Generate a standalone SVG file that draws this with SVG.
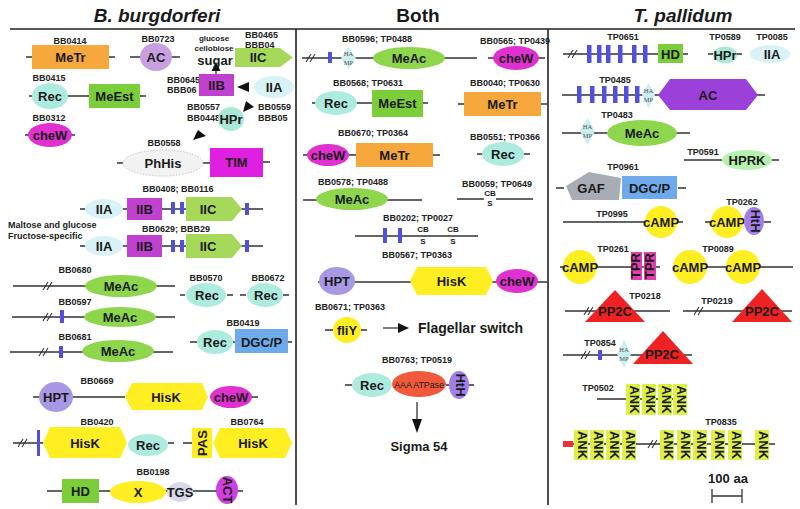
<svg xmlns="http://www.w3.org/2000/svg" width="800" height="509" viewBox="0 0 800 509">
<defs>
<style>
text{font-family:"Liberation Sans",Arial,sans-serif;fill:#1a1a1a}
.ttl{font-size:19px;font-weight:bold;text-anchor:middle}
.it{font-style:italic}
.lb{font-size:9px;font-weight:bold;text-anchor:middle;fill:#222}
.ls{font-size:9px;font-weight:bold;fill:#222}
.d{font-size:13px;font-weight:bold;text-anchor:middle}
.sm{font-size:8px;font-weight:bold;text-anchor:middle}
.hm{font-family:"Liberation Serif",serif;font-size:6.5px;text-anchor:middle;fill:#555}
.ln{stroke:#333;stroke-width:1.3;fill:none}
.sep{stroke:#222;stroke-width:1.6;fill:none}
.brk{stroke:#333;stroke-width:1.1;fill:none}
.ah{fill:#111}
.mt{fill:#F6A83C}
.me{fill:#7CCD3A}
.ma{fill:#8ED64C}
.ic{fill:#A6D85A}
.rc{fill:#AEEBDF}
.ia{fill:#D8F2F8}
.hp{fill:#A8E8D4}
.cw{fill:#E030D0}
.ib{fill:#C040D0}
.ye{fill:#FFEE22}
.ht{fill:#A898E4}
.hth{fill:#A080E8}
.dg{fill:#6EAAEA}
.bb{fill:#5050DD}
.hamp{fill:#C8EEF0}
.ank{fill:#DDF045}
.pp{fill:#EE2222}
.cmp{fill:#FFEE22}
</style>
</defs>
<rect width="800" height="509" fill="#fff"/>

<g id="titles">
<text class="ttl it" x="157" y="22">B. burgdorferi</text>
<text class="ttl" x="418" y="22">Both</text>
<text class="ttl it" x="683" y="22">T. pallidum</text>
<path class="sep" d="M10 29H795M296 29V505M548 29V505"/>
</g>

<g id="connectors">
<!-- left column backbones -->
<path class="ln" d="M26 57H115M130 57H180M29 96H146M25 135H75M117 163H123M202 163H210M263 162H270"/>
<path class="ln" d="M80 209H263M80 246H263"/>
<path class="ln" d="M13 286H175M180 295H185M227 295H233M240 295H246M283 295H289M12 317H175M190 342H197M233 342H236M288 342H292M10 352H173"/>
<path class="ln" d="M33 397H125M252 397H258M13 443H43M168 443H174M183 443H192M47 491H243"/>
<!-- arrows left -->
<path class="ln" d="M216 76V70"/>
<polygon class="ah" points="216,62 211.5,71 220.5,71"/>
<polygon class="ah" points="237,87 249,82 249,92"/>
<polygon class="ah" points="243,112 246,101 254,107"/>
<polygon class="ah" points="193,140 198,130 206,136"/>
<!-- middle backbones -->
<path class="ln" d="M302 58H477M488 58H494M538 58H545M312 103H428M458 104H464M541 104H547M303 155H440M477 154H483M523 154H530"/>
<path class="ln" d="M303 200H422M457 199H484M496 199H533M355 236H478M318 282H547M325 330H333M361 330H367M345 385H352M446 385H450M468 385H474"/>
<path class="ln" d="M383 328H399"/>
<polygon class="ah" points="398,323 409,328 398,333"/>
<path class="ln" d="M417 402V420"/>
<polygon class="ah" points="412,419 417,433 422,419"/>
<!-- right backbones -->
<path class="ln" d="M563 54H688M708 54H714M736 54H742M562 95H765M562 133H690M684 160H722M771 160H779M556 188H564M678 188H686"/>
<path class="ln" d="M563 222H683M705 222H712M763 222H771M560 267H660M673 267H793M565 311H670M683 311H792M563 355H692"/>
<path class="ln" d="M597 399H687M573 444H775"/>
<path class="ln" d="M712 496H742M712 489V503M742 489V503"/>
<!-- breaks -->
<path class="brk" d="M43 290L48 282M47 290L52 282M43 321L48 313M47 321L52 313M39 356L44 348M43 356L48 348M18 447L23 439M22 447L27 439M306 62L311 54M310 62L315 54M568 58L573 50M572 58L577 50M584 315L589 307M588 315L593 307M694 315L699 307M698 315L703 307M581 359L586 351M585 359L590 351M648 448L653 440M652 448L657 440"/>
</g>

<!-- ============ LEFT COLUMN ============ -->
<g id="bb0414"><text class="lb" x="70" y="44">BB0414</text><rect class="mt" x="32" y="45" width="77" height="24"/><text class="d" x="70.5" y="61.5">MeTr</text></g>
<g id="bb0723"><text class="lb" x="158" y="42">BB0723</text><ellipse fill="#C8A0E0" cx="156" cy="57" rx="16" ry="14"/><text class="d" x="156" y="61.5">AC</text></g>
<g id="sugar"><text class="sm" x="214" y="41">glucose</text><text class="sm" x="214" y="51">cellobiose</text><text class="d" x="215" y="65">sugar</text></g>
<g id="bb0465"><text class="ls" x="245" y="38">BB0465</text><text class="ls" x="245" y="48">BBB04</text><polygon class="ic" points="235,48 280,48 293,57.5 280,67 235,67"/><text class="d" x="258" y="62">IIC</text></g>
<g id="bb0645"><text class="ls" x="167" y="83">BB0645</text><text class="ls" x="167" y="93">BBB06</text><rect class="ib" x="199" y="74" width="35" height="22"/><text class="d" x="216.5" y="89.5" fill="#3a0a4a">IIB</text></g>
<g id="bb0559"><ellipse class="ia" cx="274" cy="87" rx="20" ry="11"/><text class="d" x="274" y="91.5">IIA</text><text class="ls" x="258" y="110">BB0559</text><text class="ls" x="258" y="121">BBB05</text></g>
<g id="bb0557"><text class="ls" x="187" y="110">BB0557</text><text class="ls" x="187" y="121">BB0448</text><ellipse class="hp" cx="231" cy="119" rx="13" ry="12"/><text class="d" x="231" y="123.5">HPr</text></g>
<g id="bb0415"><text class="lb" x="49" y="81">BB0415</text><ellipse class="rc" cx="50" cy="96" rx="18" ry="13"/><text class="d" x="50" y="100.5">Rec</text><rect class="me" x="89" y="84" width="51" height="24"/><text class="d" x="114.5" y="100.5">MeEst</text></g>
<g id="bb0312"><text class="lb" x="49" y="121">BB0312</text><ellipse class="cw" cx="50" cy="135" rx="22" ry="12"/><text class="d" x="50" y="139.5">cheW</text></g>
<g id="bb0558"><text class="lb" x="164" y="146">BB0558</text><ellipse fill="#F2F2F2" stroke="#C4C4C4" stroke-dasharray="1.5 1.5" cx="163" cy="163" rx="40" ry="13"/><text class="d" x="163" y="167.5">PhHis</text><rect x="210" y="148" width="53" height="29" fill="#E020E0"/><text class="d" x="236.5" y="167">TIM</text></g>

<g id="bb0408"><text class="lb" x="178" y="192">BB0408; BB0116</text>
<ellipse class="ia" cx="104" cy="209" rx="19" ry="10"/><text class="d" x="104" y="213.5">IIA</text>
<rect class="ib" x="127" y="198" width="35" height="22"/><text class="d" x="144.5" y="213.5" fill="#3a0a4a">IIB</text>
<rect class="bb" x="171" y="202" width="4" height="12"/><rect class="bb" x="180" y="202" width="4" height="12"/>
<polygon class="ic" points="186,197 232,197 242,209 232,221 186,221"/><text class="d" x="208" y="213.5">IIC</text>
<rect class="bb" x="245" y="203" width="4" height="12"/></g>
<g id="note"><text class="ls" x="8" y="228" font-size="8.5">Maltose and glucose</text><text class="ls" x="8" y="239" font-size="8.5">Fructose-specific</text></g>
<g id="bb0629"><text class="lb" x="176" y="232">BB0629;  BBB29</text>
<ellipse class="ia" cx="104" cy="246" rx="19" ry="10"/><text class="d" x="104" y="250.5">IIA</text>
<rect class="ib" x="127" y="235" width="35" height="22"/><text class="d" x="144.5" y="250.5" fill="#3a0a4a">IIB</text>
<rect class="bb" x="171" y="240" width="4" height="12"/><rect class="bb" x="180" y="240" width="4" height="12"/>
<polygon class="ic" points="186,234 232,234 242,246 232,258 186,258"/><text class="d" x="208" y="250.5">IIC</text>
<rect class="bb" x="245" y="240" width="4" height="12"/></g>

<g id="bb0680"><text class="lb" x="75" y="273">BB0680</text><ellipse class="ma" cx="121" cy="286" rx="36" ry="11"/><text class="d" x="121" y="290.5">MeAc</text></g>
<g id="bb0570"><text class="lb" x="206" y="281">BB0570</text><ellipse class="rc" cx="206" cy="295" rx="20" ry="12"/><text class="d" x="207" y="299.5">Rec</text></g>
<g id="bb0672"><text class="lb" x="268" y="281">BB0672</text><ellipse class="rc" cx="265" cy="295" rx="18" ry="12"/><text class="d" x="266" y="299.5">Rec</text></g>
<g id="bb0597"><text class="lb" x="75" y="305">BB0597</text><rect class="bb" x="60" y="310" width="4" height="13"/><ellipse class="ma" cx="120" cy="317" rx="36" ry="10"/><text class="d" x="120" y="321.5">MeAc</text></g>
<g id="bb0419"><text class="lb" x="243" y="326">BB0419</text><ellipse class="rc" cx="215" cy="342" rx="18" ry="12"/><text class="d" x="215" y="346.5">Rec</text><rect class="dg" x="235" y="329" width="53" height="24"/><text class="d" x="261.5" y="346.5">DGC/P</text></g>
<g id="bb0681"><text class="lb" x="75" y="340">BB0681</text><rect class="bb" x="59" y="346" width="4" height="12"/><ellipse class="ma" cx="118" cy="351" rx="36" ry="11"/><text class="d" x="118" y="355.5">MeAc</text></g>

<g id="bb0669"><text class="lb" x="97" y="384">BB0669</text><ellipse class="ht" cx="56" cy="397" rx="17" ry="15"/><text class="d" x="56" y="401.5">HPT</text>
<polygon class="ye" points="125,397 132,383 202,383 208,397 202,410 132,410"/><text class="d" x="166" y="401.5">HisK</text>
<ellipse class="cw" cx="231" cy="397" rx="21" ry="11"/><text class="d" x="231" y="401.5">cheW</text></g>
<g id="bb0420"><text class="lb" x="97" y="425">BB0420</text><rect class="bb" x="37" y="430" width="3" height="26"/>
<polygon class="ye" points="43,443 50,427 120,427 127,443 120,458 50,458"/><text class="d" x="85" y="447.5">HisK</text>
<ellipse class="rc" cx="148" cy="445" rx="20" ry="11"/><text class="d" x="148" y="449.5">Rec</text></g>
<g id="bb0764"><text class="lb" x="247" y="425">BB0764</text><rect class="ye" x="192" y="428" width="20" height="30"/><text class="d" transform="translate(206.5,443) rotate(-90)" x="0" y="0" font-size="12">PAS</text>
<polygon class="ye" points="213,443 220,428 285,428 292,443 285,458 220,458"/><text class="d" x="253" y="447.5">HisK</text></g>
<g id="bb0198"><text class="lb" x="153" y="475">BB0198</text><rect class="me" x="62" y="479" width="37" height="24"/><text class="d" x="80.5" y="496">HD</text>
<ellipse class="ye" cx="138" cy="492" rx="28" ry="11"/><text class="d" x="138" y="496.5">X</text>
<ellipse fill="#D8D8EA" cx="180" cy="492" rx="13" ry="10"/><text class="d" x="180" y="496.5">TGS</text>
<ellipse fill="#D040E0" cx="227" cy="490" rx="11" ry="14"/><text class="d" transform="translate(223,490) rotate(90)" x="0" y="0" font-size="12">ACT</text></g>

<!-- ============ MIDDLE COLUMN ============ -->
<g id="bb0596"><text class="lb" x="377" y="42">BB0596; TP0488</text><rect class="bb" x="328" y="52" width="4" height="11"/>
<polygon class="hamp" points="341,58 348.5,47 356,58 348.5,69"/><text class="hm" x="348.5" y="56">HA</text><text class="hm" x="348.5" y="65">MP</text>
<ellipse class="ma" cx="409" cy="58" rx="36" ry="11"/><text class="d" x="409" y="62.5">MeAc</text></g>
<g id="bb0565"><text class="lb" x="515" y="44">BB0565; TP0439</text><ellipse class="cw" cx="516" cy="58" rx="23" ry="12"/><text class="d" x="516" y="62.5">cheW</text></g>
<g id="bb0568"><text class="lb" x="368" y="86">BB0568; TP0631</text><ellipse class="rc" cx="336" cy="103" rx="21" ry="12"/><text class="d" x="336" y="107.5">Rec</text><rect class="me" x="372" y="90" width="51" height="27"/><text class="d" x="397.5" y="108">MeEst</text></g>
<g id="bb0040"><text class="lb" x="505" y="86">BB0040; TP0630</text><rect class="mt" x="464" y="92" width="77" height="24"/><text class="d" x="502.5" y="108.5">MeTr</text></g>
<g id="bb0670"><text class="lb" x="373" y="136">BB0670; TP0364</text><ellipse class="cw" cx="328" cy="155" rx="21" ry="11"/><text class="d" x="328" y="159.5">cheW</text><rect class="mt" x="356" y="143" width="77" height="24"/><text class="d" x="394.5" y="159.5">MeTr</text></g>
<g id="bb0551"><text class="lb" x="505" y="140">BB0551; TP0366</text><ellipse class="rc" cx="503" cy="154" rx="21" ry="12"/><text class="d" x="503" y="158.5">Rec</text></g>
<g id="bb0578"><text class="lb" x="353" y="185">BB0578; TP0488</text><ellipse class="ma" cx="352" cy="199" rx="36" ry="11"/><text class="d" x="352" y="203.5">MeAc</text></g>
<g id="bb0059"><text class="lb" x="497" y="187">BB0059; TP0649</text><text class="sm" x="490" y="196">CB</text><text class="sm" x="490" y="206">S</text></g>
<g id="bb0202"><text class="lb" x="418" y="221">BB0202; TP0027</text><rect class="bb" x="383" y="228" width="4" height="15"/><rect class="bb" x="398" y="228" width="4" height="15"/>
<text class="sm" x="423" y="232">CB</text><text class="sm" x="423" y="244">S</text><text class="sm" x="453" y="232">CB</text><text class="sm" x="453" y="244">S</text></g>
<g id="bb0567"><text class="lb" x="417" y="258">BB0567; TP0363</text><ellipse class="ht" cx="337" cy="281" rx="18" ry="14"/><text class="d" x="337" y="285.5">HPT</text>
<polygon class="ye" points="410,281 417,267 486,267 493,281 486,295 417,295"/><text class="d" x="451.5" y="285.5">HisK</text>
<ellipse class="cw" cx="517" cy="281" rx="21" ry="12"/><text class="d" x="517" y="285.5">cheW</text></g>
<g id="bb0671"><text class="lb" x="350" y="310">BB0671; TP0363</text><ellipse class="ye" cx="347" cy="330" rx="14" ry="13"/><text class="d" x="347" y="334.5">fliY</text></g>
<g id="flagellar"><text x="418" y="333" font-size="14" font-weight="bold">Flagellar switch</text></g>
<g id="bb0763"><text class="lb" x="417" y="363">BB0763; TP0519</text><ellipse class="rc" cx="372" cy="385" rx="20" ry="12"/><text class="d" x="372" y="389.5">Rec</text>
<ellipse fill="#F05A3A" cx="419" cy="384" rx="27" ry="13"/><text x="419" y="387.5" font-size="8.8" text-anchor="middle">AAA ATPase</text>
<ellipse class="hth" cx="459" cy="385" rx="10" ry="14"/><text class="d" transform="translate(455.5,385) rotate(90)" x="0" y="0" font-size="10">HtH</text></g>
<g id="sigma"><text class="d" x="419" y="451">Sigma 54</text></g>

<!-- ============ RIGHT COLUMN ============ -->
<g id="tp0651"><text class="lb" x="623" y="40">TP0651</text>
<rect class="bb" x="587" y="45" width="4.5" height="18"/><rect class="bb" x="597" y="45" width="4.5" height="18"/><rect class="bb" x="606" y="45" width="4.5" height="18"/><rect class="bb" x="618" y="45" width="4.5" height="18"/><rect class="bb" x="632" y="45" width="4.5" height="18"/><rect class="bb" x="643" y="45" width="4.5" height="18"/>
<rect class="me" x="658" y="44" width="25" height="19"/><text class="d" x="670.5" y="58.5">HD</text></g>
<g id="tp0589"><text class="lb" x="725" y="40">TP0589</text><ellipse class="hp" cx="725" cy="55" rx="12" ry="8.5"/><text class="d" x="725" y="59.5" font-size="12">HPr</text></g>
<g id="tp0085"><text class="lb" x="772" y="40">TP0085</text><ellipse class="ia" cx="770" cy="54" rx="20" ry="9"/><text class="d" x="772" y="58.5">IIA</text></g>
<g id="tp0485"><text class="lb" x="615" y="83">TP0485</text>
<rect class="bb" x="577" y="86" width="4.5" height="17"/><rect class="bb" x="590" y="86" width="4.5" height="17"/><rect class="bb" x="602" y="86" width="4.5" height="17"/><rect class="bb" x="613" y="86" width="4.5" height="17"/><rect class="bb" x="624" y="86" width="4.5" height="17"/><rect class="bb" x="635" y="86" width="4.5" height="17"/>
<polygon class="hamp" points="642,95 648.5,83 655,95 648.5,108"/><text class="hm" x="648.5" y="93">HA</text><text class="hm" x="648.5" y="102">MP</text>
<polygon fill="#9B40D8" points="658,95 670,79 746,79 758,95 746,110 670,110"/><text class="d" x="708" y="100" font-size="14">AC</text></g>
<g id="tp0483"><text class="lb" x="617" y="118">TP0483</text>
<polygon class="hamp" points="580,131 587.5,118 595,131 587.5,145"/><text class="hm" x="587.5" y="129">HA</text><text class="hm" x="587.5" y="138">MP</text>
<ellipse class="ma" cx="642" cy="133" rx="35" ry="13"/><text class="d" x="642" y="137.5">MeAc</text></g>
<g id="tp0591"><text class="lb" x="703" y="155">TP0591</text><ellipse fill="#B8F0B0" cx="747" cy="160" rx="25" ry="10"/><text class="d" x="747" y="164.5">HPRK</text></g>
<g id="tp0961"><text class="lb" x="623" y="170">TP0961</text><polygon fill="#A8ACB4" points="566,186 589,172 621,178 619,200 572,200"/><text class="d" x="591" y="192.5">GAF</text>
<rect class="dg" x="622" y="176" width="55" height="23"/><text class="d" x="649.5" y="192.5">DGC/P</text></g>
<g id="tp0995"><text class="lb" x="612" y="217">TP0995</text><circle class="cmp" cx="661" cy="222" r="16"/><text class="d" x="661" y="226.5">cAMP</text></g>
<g id="tp0262"><text class="lb" x="742" y="205">TP0262</text><circle class="cmp" cx="727" cy="222" r="16"/><text class="d" x="727" y="226.5">cAMP</text>
<ellipse class="hth" cx="754" cy="221" rx="10" ry="14"/><text class="d" transform="translate(750.5,221) rotate(90)" x="0" y="0" font-size="10">HtH</text></g>
<g id="tp0261"><text class="lb" x="613" y="252">TP0261</text><circle class="cmp" cx="580" cy="267" r="17"/><text class="d" x="580" y="271.5">cAMP</text>
<rect fill="#E040A8" x="631" y="252" width="11" height="28"/><rect fill="#E040A8" x="644" y="252" width="12" height="28"/>
<text class="d" transform="translate(640,266) rotate(-90)" x="0" y="0" font-size="10">TPR</text><text class="d" transform="translate(653.5,266) rotate(-90)" x="0" y="0" font-size="10">TPR</text></g>
<g id="tp0089"><text class="lb" x="718" y="252">TP0089</text><circle class="cmp" cx="690" cy="267" r="17"/><text class="d" x="690" y="271.5">cAMP</text><circle class="cmp" cx="743" cy="267" r="17"/><text class="d" x="743" y="271.5">cAMP</text></g>
<g id="tp0218"><text class="lb" x="645" y="299">TP0218</text><polygon class="pp" points="615,290 585,322 645,322"/><text class="d" x="615" y="316" font-size="14">PP2C</text></g>
<g id="tp0219"><text class="lb" x="717" y="304">TP0219</text><polygon class="pp" points="762,289 732,322 792,322"/><text class="d" x="762" y="316" font-size="14">PP2C</text></g>
<g id="tp0854"><text class="lb" x="600" y="346">TP0854</text><rect class="bb" x="598" y="350" width="4" height="10"/>
<polygon class="hamp" points="617,354 624,340 631,354 624,368"/><text class="hm" x="624" y="352">HA</text><text class="hm" x="624" y="361">MP</text>
<polygon class="pp" points="663,331 633,364 693,364"/><text class="d" x="662" y="359" font-size="14">PP2C</text></g>
<g id="tp0502"><text class="lb" x="598" y="391">TP0502</text>
<rect class="ank" x="626" y="384" width="14" height="31"/><rect class="ank" x="642" y="384" width="14" height="31"/><rect class="ank" x="658" y="384" width="14" height="31"/><rect class="ank" x="673" y="384" width="14" height="31"/>
<g class="d" font-size="10"><text transform="translate(629.5,399.5) rotate(90)">ANK</text><text transform="translate(645.5,399.5) rotate(90)">ANK</text><text transform="translate(661.5,399.5) rotate(90)">ANK</text><text transform="translate(676.5,399.5) rotate(90)">ANK</text></g></g>
<g id="tp0835"><text class="lb" x="721" y="425">TP0835</text><rect fill="#EE3333" x="563" y="441" width="10" height="6"/>
<rect class="ank" x="574" y="430" width="14" height="30"/><rect class="ank" x="590" y="430" width="14" height="30"/><rect class="ank" x="606" y="430" width="14" height="30"/><rect class="ank" x="622" y="430" width="14" height="30"/>
<rect class="ank" x="660" y="430" width="14" height="30"/><rect class="ank" x="677" y="430" width="14" height="30"/><rect class="ank" x="693" y="430" width="14" height="30"/><rect class="ank" x="711" y="430" width="14" height="30"/><rect class="ank" x="728" y="430" width="14" height="30"/><rect class="ank" x="755" y="430" width="14" height="30"/>
<g class="d" font-size="10"><text transform="translate(577.5,445) rotate(90)">ANK</text><text transform="translate(593.5,445) rotate(90)">ANK</text><text transform="translate(609.5,445) rotate(90)">ANK</text><text transform="translate(625.5,445) rotate(90)">ANK</text><text transform="translate(663.5,445) rotate(90)">ANK</text><text transform="translate(680.5,445) rotate(90)">ANK</text><text transform="translate(696.5,445) rotate(90)">ANK</text><text transform="translate(714.5,445) rotate(90)">ANK</text><text transform="translate(731.5,445) rotate(90)">ANK</text><text transform="translate(758.5,445) rotate(90)">ANK</text></g></g>
<g id="scale"><text class="d" x="728" y="483">100 aa</text></g>
</svg>
